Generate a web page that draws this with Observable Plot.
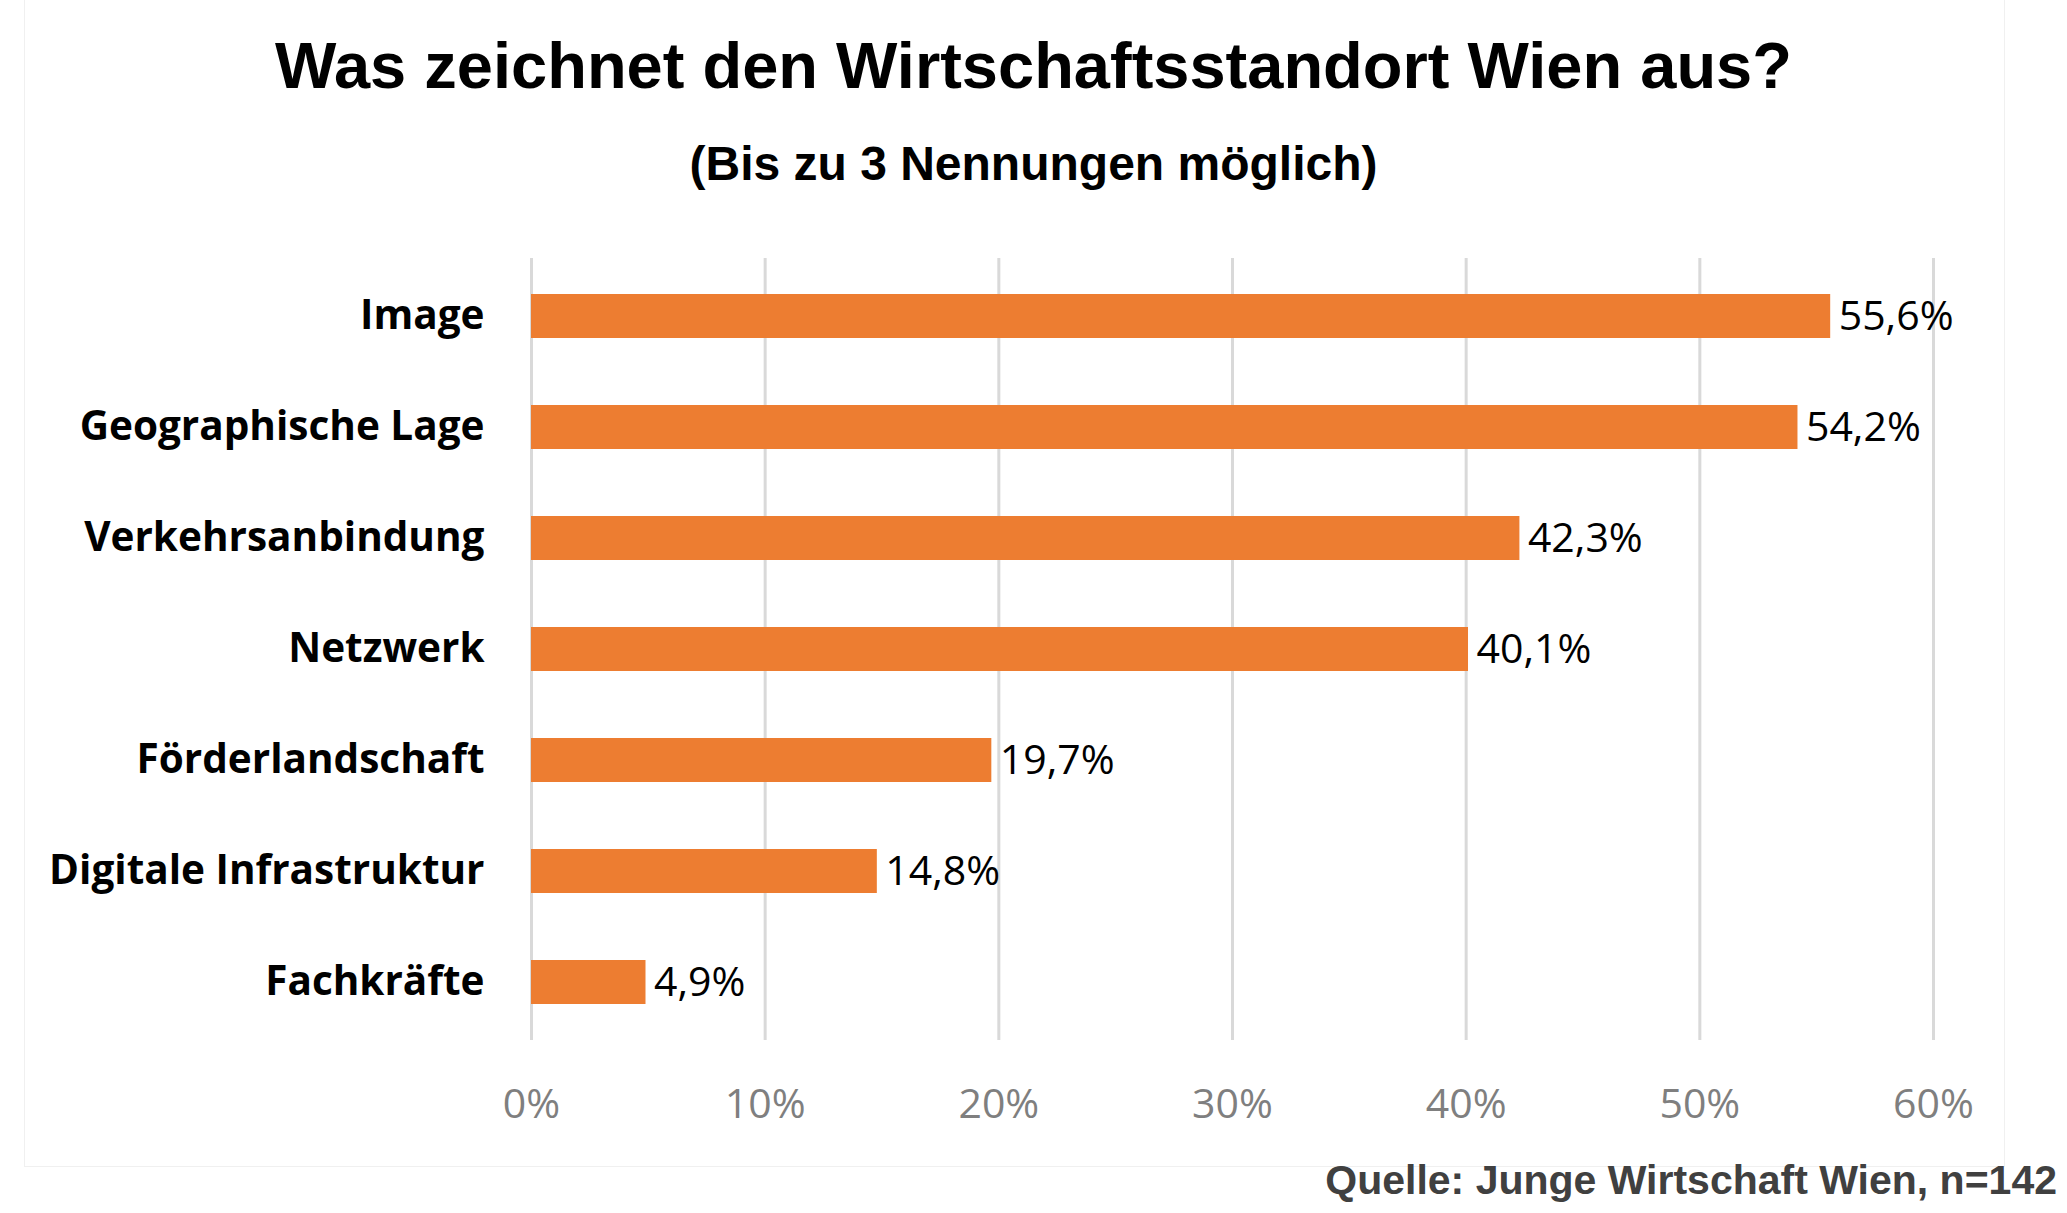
<!DOCTYPE html>
<html><head><meta charset="utf-8">
<script src="https://cdn.jsdelivr.net/npm/d3@7"></script>
<script src="https://cdn.jsdelivr.net/npm/@observablehq/plot@0.6"></script>
<style>
body{margin:0;background:#fff;width:2067px;height:1213px;position:relative;overflow:hidden}
#box{position:absolute;left:24px;top:0;width:1979px;height:1166px;border:1px solid #f0f0f0;border-top:none}
#t{position:absolute;top:28px;left:0;width:2067px;text-align:center;font:bold 65px "Liberation Sans",Arial,sans-serif;color:#000}
#s{position:absolute;top:136px;left:0;width:2067px;text-align:center;font:bold 48px "Liberation Sans",Arial,sans-serif;color:#000}
#c{position:absolute;top:200px;left:0}
#q{position:absolute;right:10px;top:1157px;font:bold 41px "Liberation Sans",Arial,sans-serif;color:#404040}
</style></head><body>
<div id="box"></div>
<div id="t">Was zeichnet den Wirtschaftsstandort Wien aus?</div>
<div id="s">(Bis zu 3 Nennungen möglich)</div>
<div id="c"></div>
<div id="q">Quelle: Junge Wirtschaft Wien, n=142</div>
<script>
const categories=["Image","Geographische Lage","Verkehrsanbindung","Netzwerk","Förderlandschaft","Digitale Infrastruktur","Fachkräfte"];
const values=[55.6,54.2,42.3,40.1,19.7,14.8,4.9];
const labels=["55,6%","54,2%","42,3%","40,1%","19,7%","14,8%","4,9%"];
const xTicks=[0,10,20,30,40,50,60];
const data=categories.map((c,i)=>({c,v:values[i],l:labels[i]}));
const chart=Plot.plot({
  width:2067,height:960,marginLeft:531,marginRight:134,marginTop:58,marginBottom:120,
  style:{fontFamily:"'Open Sans',sans-serif",background:"transparent"},
  x:{domain:[0,60],ticks:xTicks,tickFormat:d=>d+"%",label:null},
  y:{domain:categories,padding:0.6,paddingOuter:0.3,label:null},
  marks:[
    Plot.ruleX(xTicks,{stroke:"#d9d9d9",strokeWidth:3}),
    Plot.barX(data,{x:"v",y:"c",fill:"#ed7d31"}),
    Plot.text(data,{x:"v",y:"c",text:"l",textAnchor:"start",dx:8,fontSize:41,fill:"#000"}),
    Plot.axisX({ticks:xTicks,tickFormat:d=>d+"%",tickSize:0,tickPadding:48,fontSize:41,color:"#7f7f7f",label:null}),
    Plot.axisY({tickSize:0,tickPadding:47,fontSize:40.5,fontWeight:"bold",color:"#000",label:null})
  ]
});
document.getElementById("c").appendChild(chart);
</script>
</body></html>
